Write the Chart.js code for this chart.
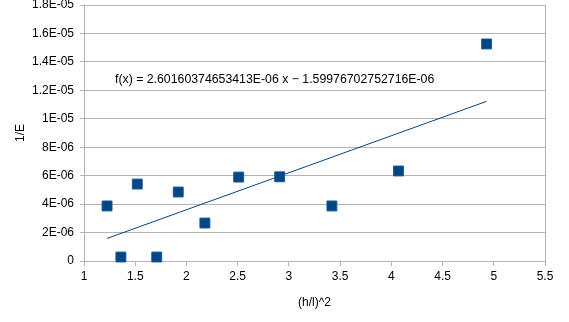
<!DOCTYPE html>
<html>
<head>
<meta charset="utf-8">
<script src="https://cdn.jsdelivr.net/npm/chart.js@4/dist/chart.umd.min.js"></script>
<style>
html,body{margin:0;padding:0;background:#fff;}
#wrap{width:569px;height:322px;}
</style>
</head>
<body>
<div id="wrap"><canvas id="c" width="569" height="322"></canvas></div>
<script>
// Data
const xValues = [1.225, 1.36, 1.52, 1.71, 1.92, 2.18, 2.51, 2.91, 3.42, 4.07, 4.93];
const yValues = [3.87e-6, 0.28e-6, 5.41e-6, 0.28e-6, 4.85e-6, 2.67e-6, 5.90e-6, 5.92e-6, 3.87e-6, 6.33e-6, 15.26e-6];
const trendSlope = 2.60160374653413E-06;
const trendIntercept = -1.59976702752716E-06;
const trendLabel = "f(x) = 2.60160374653413E-06 x \u2212 1.59976702752716E-06";
const yTickValues = [0, 2e-6, 4e-6, 6e-6, 8e-6, 1e-5, 1.2e-5, 1.4e-5, 1.6e-5, 1.8e-5];
const yTickLabels = ["0", "2E-06", "4E-06", "6E-06", "8E-06", "1E-05", "1.2E-05", "1.4E-05", "1.6E-05", "1.8E-05"];
const xTitle = "(h/l)^2";
const yTitle = "1/E";

const pts = xValues.map((x, i) => ({x: x, y: yValues[i]}));
const xMin = Math.min(...xValues), xMax = Math.max(...xValues);
const trendPts = [xMin, xMax].map(x => ({x: x, y: trendSlope * x + trendIntercept}));

const FONT = "'Liberation Sans', Arial, sans-serif";
const GRID = '#b3b3b3';
const BLUE = '#004586';

const eqPlugin = {
  id: 'eq',
  afterDatasetsDraw(chart) {
    const ctx = chart.ctx;
    const a = chart.chartArea;
    ctx.save();
    ctx.font = "12.3px " + FONT;
    ctx.fillStyle = '#000';
    ctx.textBaseline = 'middle';
    ctx.fillText(trendLabel, a.left + 31, a.top + 75);
    ctx.restore();
  }
};

new Chart(document.getElementById('c'), {
  type: 'scatter',
  data: {
    datasets: [
      {
        data: trendPts,
        type: 'line',
        borderColor: BLUE,
        borderWidth: 1,
        pointRadius: 0,
        fill: false,
        clip: false,
        order: 2
      },
      {
        data: pts,
        pointStyle: 'rect',
        pointRadius: 7,
        backgroundColor: BLUE,
        borderColor: '#1a5a96',
        borderWidth: 1,
        clip: false,
        order: 1
      }
    ]
  },
  options: {
    responsive: false,
    animation: false,
    devicePixelRatio: 1,
    layout: {autoPadding: false, padding: {left: 0, right: 24, top: 5, bottom: 0}},
    plugins: {legend: {display: false}, tooltip: {enabled: false}},
    scales: {
      x: {
        type: 'linear',
        min: 1, max: 5.5,
        ticks: {stepSize: 0.5, color: '#000', font: {family: FONT, size: 12}, padding: 3,
          callback: v => String(+Number(v).toFixed(2))},
        grid: {
          color: c => (c.tick && c.tick.value === 5.5) ? GRID : 'rgba(0,0,0,0)',
          tickColor: GRID,
          tickLength: 5,
          lineWidth: 1
        },
        border: {color: GRID},
        title: {display: true, text: xTitle, color: '#000', font: {family: FONT, size: 12}, padding: {top: 6, bottom: 12}},
        afterFit: s => { s.height = 61; }
      },
      y: {
        type: 'linear',
        min: 0, max: 1.8e-5,
        afterBuildTicks: s => { s.ticks = yTickValues.map(v => ({value: v})); },
        ticks: {
          color: '#000', font: {family: FONT, size: 12, lineHeight: 0.4}, padding: 6,
          callback: (v, i) => yTickLabels[i]
        },
        grid: {color: GRID, tickColor: GRID, tickLength: 4, lineWidth: 1},
        border: {color: GRID},
        title: {display: true, text: yTitle, color: '#000', font: {family: FONT, size: 12}, padding: {top: 13, bottom: 0}},
        afterFit: s => { s.width = 84; s.paddingTop = 0; s.paddingBottom = 0; }
      }
    }
  },
  plugins: [eqPlugin]
});
</script>
</body>
</html>
